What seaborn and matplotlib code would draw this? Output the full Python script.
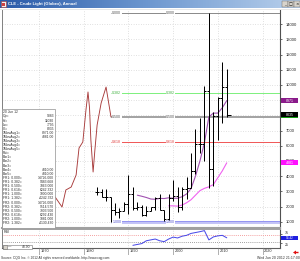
import numpy as np
import pandas as pd
import matplotlib
matplotlib.use("Agg")
import matplotlib.pyplot as plt
import matplotlib.transforms as mtransforms
from matplotlib.patches import Rectangle, Polygon
from matplotlib.colors import LinearSegmentedColormap
import seaborn as sns

# ---------------- data ----------------
years  = list(range(1983, 2013))
opens  = [2930, 2976, 2646, 2612, 1794, 1669, 1713, 2182, 2828, 1912,
          1942, 1417, 1719, 1955, 2592, 1764, 1202, 2560, 2680, 1996,
          3131, 3235, 4345, 6104, 6105, 9596, 4460, 7961, 9138, 9883]
highs  = [3295, 3162, 3160, 2627, 2219, 1880, 2300, 4107, 3275, 2270,
          2100, 2050, 2000, 2650, 2800, 1800, 2800, 3740, 3300, 3300,
          3915, 5535, 7080, 7800, 9902, 14727, 8238, 9186, 11483, 11030]
lows   = [2772, 2630, 2400, 1000, 1460, 1260, 1700, 1500, 1800, 1800,
          1370, 1400, 1700, 1760, 1750, 1050, 1100, 2360, 1650, 1770,
          2520, 3200, 4120, 5500, 5000, 3240, 3340, 6403, 7495, 7900]
closes = [2976, 2646, 2612, 1794, 1669, 1713, 2182, 2828, 1912, 1942,
          1417, 1719, 1955, 2592, 1764, 1202, 2560, 2680, 1996, 3131,
          3235, 4345, 6104, 6105, 9596, 4460, 7961, 9138, 9883, 8035]

ma1_years = list(range(1992, 2013))
ma1_vals  = [2750, 2680, 2600, 2500, 2480, 2540, 2530, 2580, 2550, 2550,
             2650, 2830, 3180, 4000, 5000, 6200, 7900, 8150, 8150, 8500, 8971]
ma2_years = list(range(1999, 2013))
ma2_vals  = [2050, 2050, 2030, 2100, 2250, 2450, 2750, 3050, 3200, 3300,
             3450, 3900, 4350, 4881]

red_years = [1972.9, 1973.6, 1975.15, 1976.0, 1977.2, 1978.3, 1978.95, 1979.8,
             1980.5, 1980.96, 1981.3, 1981.6, 1982.1, 1982.5, 1983.0, 1983.9,
             1985.0, 1986.1]
red_vals  = [2760, 2632, 1974, 3092, 3289, 4079, 5855, 6250, 8355, 9539,
             8487, 6382, 4276, 5724, 7368, 8816, 9868, 7895]

rsi_years = list(range(1991, 2013))
rsi_vals  = [11, 16, 21, 37, 42, 47, 37, 32, 47, 58, 53, 63, 68, 79, 84, 89,
             95, 42, 59, 65, 68, 54]
rsi_ticks = [75, 25]
rsi_bands = [70, 30]

fib_ratios = ["0.000", "0.382", "0.500", "0.618", "1.000"]
fib_prices = [14726, 9483, 7863, 6244, 1000]
fib_anchor_years = [1986, 1998]

price_ticks = list(range(1000, 15000, 1000))
decades = [1970, 1980, 1990, 2000, 2010, 2020]

legend_rows = [
    ("20 Jun 12", ""), ("Op=", "9883"), ("Hi=", "11030"), ("Lo=", "7795"),
    ("Cl=", "8035"), ("1MovAvg1=", "8971.00"), ("1MovAvg2=", "4881.00"),
    ("1MovAvg3=", ""), ("1MovAvg4=", ""), ("1MovAvg5=", ""), ("Rsi=", ""),
    ("Bar1=", ""), ("Bar2=", ""), ("Bar3=", ""), ("Bar4=", "4810.00"),
    ("Bar5=", "4810.00"),
    ("FR1: 0.000=", "14726.000"), ("FR1: 0.382=", "9483.668"),
    ("FR1: 0.500=", "7863.000"), ("FR1: 0.618=", "6242.332"),
    ("FR1: 1.000=", "1000.000"), ("FR1: 1.382=", "-4242.332"),
    ("FR2: 0.000=", "14726.000"), ("FR2: 0.382=", "9514.570"),
    ("FR2: 0.500=", "7903.500"), ("FR2: 0.618=", "6292.430"),
    ("FR2: 1.000=", "1081.000"), ("FR2: 1.382=", "-4130.430"),
]

# ---------------- style ----------------
sns.set_theme(style="white")
plt.rcParams['font.family'] = ['Liberation Sans', 'DejaVu Sans']

W, H = 300, 261
fig = plt.figure(figsize=(W / 100, H / 100), dpi=100)
fig.patch.set_facecolor("white")


def box(l, t, r, b):
    return [l / W, 1 - b / H, (r - l) / W, (b - t) / H]


XL = (1961.72, 2023.91)
PX = 72 / 100  # points per pixel

# ---------------- main price panel ----------------
ax = fig.add_axes(box(2, 10, 280, 228))
ax.set_facecolor("white")
ax.set_xlim(*XL)
ax.set_ylim(592, 14934)
ax.set_xticks(decades)
ax.set_yticks(price_ticks)
ax.yaxis.tick_right()
ax.tick_params(axis='x', length=0, labelbottom=False)
ax.tick_params(axis='y', labelsize=3.0, length=1.5, width=0.5, pad=2.5,
               colors='#303030', labelcolor='#202020')
ax.grid(True, color='#c4c4c4', lw=0.5, ls=(0, (1, 2.5)))
ax.spines['top'].set_visible(False)
ax.spines['left'].set_color('#808080'); ax.spines['left'].set_linewidth(0.7)
ax.spines['right'].set_color('#505050'); ax.spines['right'].set_linewidth(0.8)
ax.spines['bottom'].set_color('#a0a0a0'); ax.spines['bottom'].set_linewidth(1.5)

# fibonacci lines
fib_cols = ["#8c8c8c", "#80f080", "#a4a4a4", "#f05a5a", "#c4c4f6"]
fib_lw = [1.0, 1.0, 2.0, 1.0, 3.0]
fib_txt = ["#505050", "#40b040", "#505050", "#e04040", "#5050d0"]
for p, c, w in zip(fib_prices, fib_cols, fib_lw):
    ax.hlines(p, fib_anchor_years[0], XL[1], color=c, lw=w * PX, zorder=2)
ax.hlines(fib_prices[-1] + 60, fib_anchor_years[0], XL[1], color="#8a8af0",
          lw=0.8 * PX, zorder=2)
for yr0 in fib_anchor_years:
    for r, p, tc in zip(fib_ratios, fib_prices, fib_txt):
        ax.text(yr0 + 0.4, p, r, fontsize=2.6, color=tc, ha='left', va='center',
                zorder=3, bbox=dict(facecolor='white', edgecolor='none', pad=0.2))

# red historical line
sns.lineplot(x=red_years, y=red_vals, ax=ax, color="#a83a3a", lw=0.9 * PX,
             sort=False, legend=False, zorder=3)

# moving averages
sns.lineplot(x=ma1_years, y=ma1_vals, ax=ax, color="#a050b0", lw=1.1 * PX,
             legend=False, zorder=3)
sns.lineplot(x=ma2_years, y=ma2_vals, ax=ax, color="#f060f0", lw=1.1 * PX,
             legend=False, zorder=3)

# OHLC bars
yr = np.array(years, dtype=float)
ax.vlines(yr, lows, highs, color='black', lw=1.0 * PX, zorder=4)
ax.hlines(opens, yr - 0.45, yr, color='black', lw=1.0 * PX, zorder=4)
ax.hlines(closes, yr, yr + 0.45, color='black', lw=1.0 * PX, zorder=4)
ax.hlines(closes[-1], yr[-1], yr[-1] + 0.9, color='black', lw=1.0 * PX, zorder=4)

# right axis value boxes
blend = mtransforms.blended_transform_factory(ax.transAxes, ax.transData)
pu = (ax.get_ylim()[1] - ax.get_ylim()[0]) / 218.0
for val, fc, txt in [(ma1_vals[-1], "#8a1a8a", "8971"),
                     (closes[-1], "#000000", "8035"),
                     (ma2_vals[-1], "#ff10ff", "4881")]:
    ax.add_patch(Rectangle((1.004, val - 2.6 * pu), 0.062, 5.2 * pu,
                           transform=blend, clip_on=False, facecolor=fc,
                           edgecolor='none', zorder=6))
    ax.text(1.035, val, txt, transform=blend, fontsize=2.6, color='white',
            ha='center', va='center', clip_on=False, zorder=7)
ax.add_patch(Rectangle((1.004, closes[-1] - 3.6 * pu), 0.062, 1.2 * pu,
                       transform=blend, clip_on=False, facecolor="#10a010",
                       edgecolor='none', zorder=6))

# ---------------- RSI panel ----------------
ax2 = fig.add_axes(box(2, 229, 280, 248))
ax2.set_facecolor("white")
ax2.set_xlim(*XL)
ax2.set_ylim(-4.3, 104.3)
ax2.set_xticks(decades)
ax2.set_yticks(rsi_ticks)
ax2.yaxis.tick_right()
ax2.tick_params(axis='x', length=0, labelbottom=False)
ax2.tick_params(axis='y', labelsize=2.6, length=1.2, width=0.5, pad=2.0,
                colors='#303030', labelcolor='#202020')
for lab, dy in zip(ax2.get_yticklabels(), [1.5, -1.5]):
    lab.set_transform(lab.get_transform() +
                      mtransforms.ScaledTranslation(0, dy / 100, fig.dpi_scale_trans))
ax2.grid(True, axis='x', color='#c4c4c4', lw=0.5, ls=(0, (1, 2.5)))
ax2.axhline(rsi_bands[0], color="#f08080", lw=0.6, ls=(0, (1, 1.5)))
ax2.axhline(rsi_bands[1], color="#808080", lw=0.6, ls=(0, (1, 1.5)))
sns.lineplot(x=rsi_years, y=rsi_vals, ax=ax2, color="#4848e8", lw=1.0 * PX,
             legend=False)
ax2.spines['top'].set_color('#a0a0a0'); ax2.spines['top'].set_linewidth(0.7)
ax2.spines['left'].set_color('#808080'); ax2.spines['left'].set_linewidth(0.7)
ax2.spines['right'].set_color('#505050'); ax2.spines['right'].set_linewidth(0.8)
ax2.spines['bottom'].set_color('#606060'); ax2.spines['bottom'].set_linewidth(0.8)
blend2 = mtransforms.blended_transform_factory(ax2.transAxes, ax2.transData)
ax2.add_patch(Rectangle((1.004, rsi_vals[-1] - 11), 0.062, 22, transform=blend2,
                        clip_on=False, facecolor="#2020e0", edgecolor='none',
                        zorder=6))
ax2.text(1.035, rsi_vals[-1], "54.42", transform=blend2, fontsize=2.2,
         color='white', ha='center', va='center', clip_on=False, zorder=7)
ax2.text(0.005, 0.93, "RSI", transform=ax2.transAxes, fontsize=2.6,
         color='#303030', ha='left', va='top')

# ---------------- time strip ----------------
ax3 = fig.add_axes(box(2, 248, 280, 255))
ax3.set_xlim(*XL)
ax3.set_ylim(0, 1)
ax3.axis('off')
for d in decades:
    ax3.vlines(d, 0, 1, color='#909090', lw=0.5)
    ax3.text(d + 0.35, 0.5, str(d), fontsize=2.8, color='#303030',
             ha='left', va='center')

# ---------------- overlay decorations ----------------
ov = fig.add_axes([0, 0, 1, 1])
ov.set_xlim(0, W)
ov.set_ylim(H, 0)
ov.axis('off')
ov.set_zorder(10)
ov.patch.set_alpha(0)

# title bar
cmap = LinearSegmentedColormap.from_list("tb", ["#2a5aa8", "#6e98d0", "#b8d0ec"])
ov.imshow(np.linspace(0, 1, 256).reshape(1, -1), cmap=cmap, aspect='auto',
          extent=(0, W, 8.5, 0), zorder=1)
ov.add_patch(Rectangle((1, 1.2), 5, 5.5, facecolor='#f0f0f0', edgecolor='#a03030',
                       lw=0.4, zorder=2))
ov.add_patch(Rectangle((2, 2.5), 3, 3, facecolor='#d04040', edgecolor='none', zorder=3))
ov.text(8.5, 4.3, "CLE - Crude Light (Globex), Annual", fontsize=3.0,
        color='white', fontweight='bold', ha='left', va='center', zorder=3)
for bx, sym in [(282, "_"), (288, "□"), (294, "×")]:
    ov.add_patch(Rectangle((bx, 1.2), 5.5, 5.5, facecolor='#d8d4cc',
                           edgecolor='#606060', lw=0.3, zorder=2))
    ov.text(bx + 2.75, 4.0, sym, fontsize=3.0, color='black', ha='center',
            va='center', zorder=3, family=['DejaVu Sans'])
ov.add_patch(Rectangle((0, 8.5), W, 1.5, facecolor='#e8e8e8', edgecolor='none', zorder=1))

# legend box
ov.add_patch(Rectangle((2, 109), 53, 119, facecolor='white', edgecolor='#909090',
                       lw=0.5, zorder=2))
y0 = 112.3
for i, (lab, val) in enumerate(legend_rows):
    yy = y0 + i * 4.1
    ov.text(3, yy, lab, fontsize=2.4, color='#303030', ha='left', va='center', zorder=3)
    if val:
        ov.text(54, yy, val, fontsize=2.4, color='#303030', ha='right',
                va='center', zorder=3)

# scroll widget
ov.add_patch(Rectangle((2.5, 244.5), 29, 4.5, facecolor='white', edgecolor='#707070',
                       lw=0.4, zorder=2))
ov.add_patch(Rectangle((2.5, 244.5), 4, 4.5, facecolor='#d8d4cc', edgecolor='#707070',
                       lw=0.4, zorder=3))
ov.text(8, 246.8, "—", fontsize=2.4, color='#303030', ha='left', va='center', zorder=3)
ov.text(30.5, 246.8, "48.90", fontsize=2.4, color='#303030', ha='right',
        va='center', zorder=3)

# red arrow
ov.add_patch(Polygon([[293, 252.5], [296, 250.5], [296, 251.8], [298.5, 251.8],
                      [298.5, 253.2], [296, 253.2], [296, 254.5]],
                     closed=True, facecolor='#e01010', edgecolor='none', zorder=3))

# footer
ov.text(1, 258.3, "Source: CQG Inc. © 2012 All rights reserved worldwide. http://www.cqg.com",
        fontsize=2.3, color='#303030', ha='left', va='center', zorder=3)
ov.text(299.5, 258.3, "Wed Jun 20 2012 21:17:00", fontsize=2.5, color='#303030',
        ha='right', va='center', zorder=3)

fig.savefig("out.png", dpi=100, facecolor='white')
